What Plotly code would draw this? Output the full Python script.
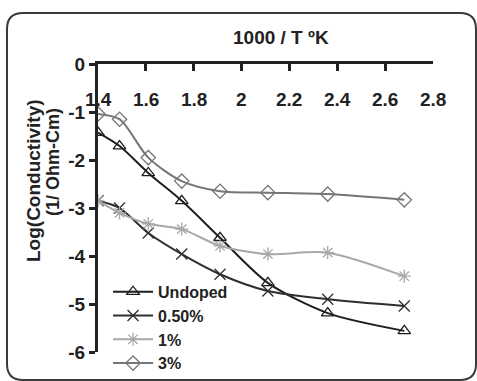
import plotly.graph_objects as go

x_vals = [1.40, 1.49, 1.61, 1.75, 1.91, 2.11, 2.36, 2.68]
undoped = [-1.43, -1.71, -2.27, -2.85, -3.62, -4.56, -5.19, -5.56]
doped_050 = [-2.85, -3.00, -3.52, -3.96, -4.38, -4.73, -4.90, -5.04]
doped_1 = [-2.85, -3.10, -3.33, -3.44, -3.79, -3.96, -3.93, -4.42]
doped_3 = [-1.04, -1.15, -1.95, -2.44, -2.65, -2.68, -2.71, -2.83]

x_ticks = [1.4, 1.6, 1.8, 2.0, 2.2, 2.4, 2.6, 2.8]
x_tick_text = ["1.4", "1.6", "1.8", "2", "2.2", "2.4", "2.6", "2.8"]
y_ticks = [0, -1, -2, -3, -4, -5, -6]
y_tick_text = ["0", "-1", "-2", "-3", "-4", "-5", "-6"]

FONT = "Liberation Sans, Arial, sans-serif"

series = [
    ("Undoped", undoped, "#1e1e1e", "triangle-up-open"),
    ("0.50%", doped_050, "#2e2e2e", "x-thin-open"),
    ("1%", doped_1, "#a8a8a8", "asterisk-open"),
    ("3%", doped_3, "#767676", "diamond-open"),
]

fig = go.Figure()
for name, ys, col, sym in series:
    fig.add_trace(go.Scatter(
        x=x_vals, y=ys, name=name, mode="lines+markers",
        line=dict(color=col, width=2, shape="spline", smoothing=0.8),
        marker=dict(symbol=sym, size=11, color=col, line=dict(color=col, width=1.3)),
    ))

W, H = 477, 381
L, R, T, B = 98, 44, 64, 29
pw, ph = W - L - R, H - T - B

def px(xp):
    return (xp - L) / pw

def py(yp):
    return (H - B - yp) / ph

# rounded frame
x0, x1, y0, y1, r = 7, 476, 13, 380, 16
path = (f"M {px(x0 + r)} {py(y0)} L {px(x1 - r)} {py(y0)} "
        f"Q {px(x1)} {py(y0)} {px(x1)} {py(y0 + r)} "
        f"L {px(x1)} {py(y1 - r)} Q {px(x1)} {py(y1)} {px(x1 - r)} {py(y1)} "
        f"L {px(x0 + r)} {py(y1)} Q {px(x0)} {py(y1)} {px(x0)} {py(y1 - r)} "
        f"L {px(x0)} {py(y0 + r)} Q {px(x0)} {py(y0)} {px(x0 + r)} {py(y0)} Z")

annotations = [
    dict(text="1000 / T ºK", xref="paper", yref="paper",
         x=px(281), y=py(37), xanchor="center", yanchor="middle", showarrow=False,
         font=dict(size=19, weight="bold")),
    dict(text="Log(Conductivity)", xref="paper", yref="paper",
         x=px(33), y=py(181), xanchor="center", yanchor="middle", showarrow=False,
         textangle=-90, font=dict(size=19, weight="bold")),
    dict(text="(1/ Ohm-Cm)", xref="paper", yref="paper",
         x=px(53), y=py(162), xanchor="center", yanchor="middle", showarrow=False,
         textangle=-90, font=dict(size=18, weight="bold")),
]
# x tick labels drawn just below the top axis, positioned by the x scale
for tv, tt in zip(x_ticks, x_tick_text):
    annotations.append(dict(text=tt, xref="x", yref="paper", x=tv, y=py(99),
                            xanchor="center", yanchor="middle", showarrow=False,
                            font=dict(size=19, weight="bold")))

fig.update_layout(
    width=W, height=H,
    margin=dict(l=L, r=R, t=T, b=B, autoexpand=False),
    paper_bgcolor="white", plot_bgcolor="white",
    font=dict(family=FONT, color="#222", size=15),
    showlegend=True,
    legend=dict(x=0.03, y=0.268, xanchor="left", yanchor="top",
                bgcolor="rgba(0,0,0,0)", font=dict(size=16, weight="bold"),
                tracegroupgap=0, itemwidth=40),
    shapes=[dict(type="path", xref="paper", yref="paper", path=path,
                 line=dict(color="#3a3a3a", width=2), layer="below")],
    annotations=annotations,
)
fig.update_xaxes(range=[1.4, 2.8], side="top", tickvals=x_ticks,
                 ticks="inside", ticklen=7, tickwidth=2.5, tickcolor="#222",
                 showline=True, linecolor="#222", linewidth=3,
                 showgrid=False, zeroline=False, showticklabels=False)
fig.update_yaxes(range=[-6, 0], tickvals=y_ticks, ticktext=y_tick_text,
                 ticks="outside", ticklen=6, tickwidth=2.5, tickcolor="#222",
                 showline=True, linecolor="#222", linewidth=3,
                 showgrid=False, zeroline=False,
                 tickfont=dict(size=19, weight="bold"))

fig.write_html("out.html")
